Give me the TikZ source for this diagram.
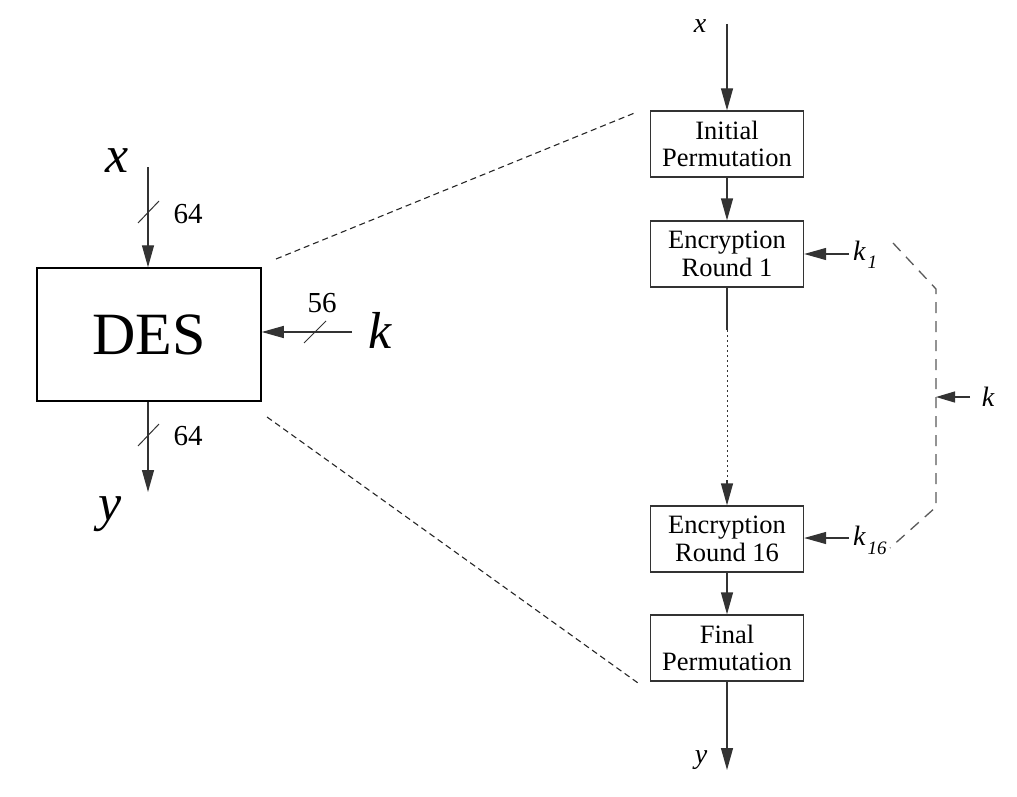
\documentclass[tikz,border=0pt]{standalone}
\usepackage{fontspec}
\setmainfont{Liberation Serif}
\usetikzlibrary{arrows.meta}
\begin{document}
\begin{tikzpicture}[x=1pt,y=-1pt,
  ln/.style={line width=1.3pt, draw=black!80},
  arr/.style={ln,-{Triangle[length=22pt,width=12pt]}},
  box/.style={draw=black!80, line width=1.3pt, minimum width=153pt, minimum height=66pt, inner sep=0pt, align=center, font=\fontsize{26.5}{27.5}\selectfont},
  bigbox/.style={draw=black, line width=1.5pt, minimum width=224pt, minimum height=133pt, inner sep=0pt, font=\fontsize{60}{62}\selectfont},
  bigvar/.style={inner sep=0pt, font=\fontsize{52}{52}\selectfont\itshape},
  smallvar/.style={inner sep=0pt, font=\fontsize{28}{28}\selectfont\itshape},
  num/.style={inner sep=0pt, font=\fontsize{29}{29}\selectfont},
  zoomline/.style={line width=1.1pt, draw=black!85, dash pattern=on 6pt off 4pt},
  keyline/.style={line width=1.3pt, draw=black!65, dash pattern=on 11pt off 8pt},
  slash/.style={line width=1pt, draw=black!80}
]
\useasboundingbox (0,0) rectangle (1017,797);

% ---------- left: DES black box ----------
\node[bigbox] (des) at (149,334.5) {DES};
\node[bigvar] (xl) at (117,161) {x};
\node[bigvar] (yl) at (110,514) {y};
\node[bigvar] (kl) at (380,330) {k};
\coordinate (xin) at (148,167);
\coordinate (yout) at (148,492);
\coordinate (kin) at (352,332);
\draw[arr] (xin) -- (xin |- des.north);
\draw[arr] (yout |- des.south) -- (yout);
\draw[arr] (kin) -- (kin -| des.east);
\draw[slash] (138,223) -- (159,201);
\draw[slash] (138,446) -- (159,424);
\draw[slash] (304,343) -- (326,321);
\node[num] (n64a) at (188,214) {64};
\node[num] (n64b) at (188,436) {64};
\node[num] (n56) at (322,303) {56};

% ---------- zoom lines ----------
\coordinate (za) at (276,259);
\coordinate (zb) at (637,112);
\coordinate (zc) at (267,417);
\coordinate (zd) at (638,683);
\draw[zoomline] (za) -- (zb);
\draw[zoomline] (zc) -- (zd);

% ---------- right: internal structure ----------
\node[box] (ip) at (727,144) {Initial\\Permutation};
\node[box] (r1) at (727,254) {Encryption\\Round 1};
\node[box] (r16) at (727,539) {Encryption\\Round 16};
\node[box] (fp) at (727,648) {Final\\Permutation};

\node[smallvar] (xr) at (700,26) {x};
\node[smallvar] (yr) at (701,760) {y};
\coordinate (xrin) at (727,24);
\coordinate (yrout) at (727,770);
\coordinate (d1) at (727,330);
\coordinate (d2) at (727,480);
\draw[arr] (xrin) -- (ip.north);
\draw[arr] (ip.south) -- (r1.north);
\draw[ln] (r1.south) -- (d1);
\draw[ln, line width=1pt, dash pattern=on 1.5pt off 3.5pt] (d1) -- (d2);
\draw[arr] (d2) -- (r16.north);
\draw[arr] (r16.south) -- (fp.north);
\draw[arr] (fp.south) -- (yrout);

% ---------- subkeys ----------
\coordinate (k1in) at (849,254);
\coordinate (k16in) at (849,538);
\draw[arr] (k1in) -- (r1.east |- k1in);
\draw[arr] (k16in) -- (r16.east |- k16in);
\node[smallvar, anchor=west] (k1l) at (853,255) {k\kern2pt\raisebox{-8pt}{\fontsize{19}{19}\selectfont 1}};
\node[smallvar, anchor=west] (k16l) at (853,540) {k\kern2pt\raisebox{-9pt}{\fontsize{19}{19}\selectfont 16}};

% ---------- key schedule ----------
\coordinate (ks1) at (893,243);
\coordinate (ks2) at (936,289);
\coordinate (ks3) at (936,507);
\coordinate (ks4) at (890,548);
\draw[keyline] (ks1) -- (ks2) -- (ks3) -- (ks4);
\coordinate (kr) at (970,397);
\coordinate (kt) at (936,397);
\draw[arr, -{Triangle[length=19pt,width=11pt]}] (kr) -- (kt);
\node[smallvar] (krl) at (988,397) {k};
\end{tikzpicture}
\end{document}
